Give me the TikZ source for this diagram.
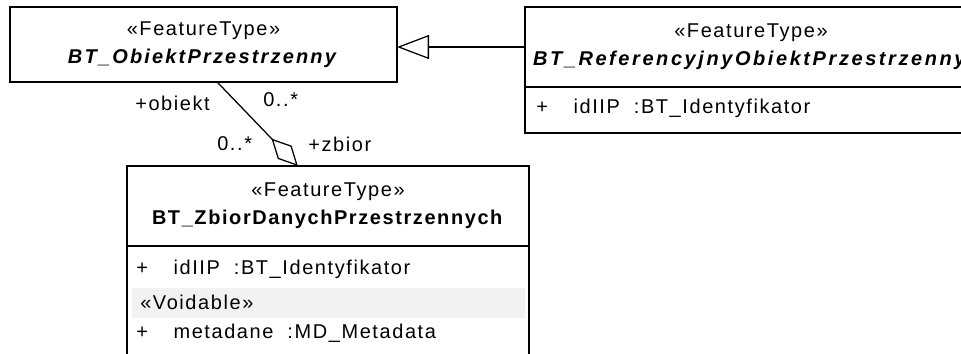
\documentclass[tikz,border=0pt]{standalone}
\usepackage{fontspec}
\setmainfont{Liberation Sans}[LetterSpace=8]
\usetikzlibrary{arrows.meta,calc,positioning}
\definecolor{ink}{HTML}{000000}
\definecolor{paper}{HTML}{FFFFFF}
\definecolor{voidfill}{HTML}{F2F2F2}
\newcommand{\umlfont}{\fontsize{14.2}{19.9}\selectfont}
% abstract class names come out looser than the rest
\newcommand{\absname}[2]{{\addfontfeature{LetterSpace=#1}\textbf{\textit{#2}}}}
\tikzset{
  % ---- class boxes -----------------------------------------------
  clshead/.style  = {rectangle, draw=ink, line width=1.4pt, fill=paper,
                     inner sep=0pt, outer sep=0pt, align=center,
                     font=\umlfont},
  clsbody/.style  = {rectangle, draw=ink, line width=1.4pt, fill=paper,
                     inner sep=0pt, outer sep=0pt},
  attr/.style     = {font=\umlfont, text=ink, inner sep=0pt,
                     anchor=base west},
  voidband/.style = {fill=voidfill, draw=none},
  % ---- relations -------------------------------------------------
  gen/.style      = {draw=ink, line width=.9pt,
                     -{Triangle[open, length=0.8cm, width=0.6cm]}},
  agg/.style      = {draw=ink, line width=.9pt,
                     -{Diamond[open, length=0.95cm, width=0.48cm]}},
  rolelab/.style  = {font=\umlfont, text=ink, inner sep=0pt,
                     anchor=base west},
}

\begin{document}
\begin{tikzpicture}
\useasboundingbox (0,0) rectangle (24.025,-8.825);
\clip (0,0) rectangle (24.025,-8.825);
% ---- BT_ObiektPrzestrzenny --------------------------------------
\node[clshead, minimum width=9.675cm, minimum height=1.875cm] (obj) at (5.0875,-1.1125)
  {«FeatureType»\\\absname{11}{BT\_ObiektPrzestrzenny}};
% ---- BT_ReferencyjnyObiektPrzestrzenny --------------------------
\node[clshead, minimum width=11.3cm, minimum height=2.0cm] (ref) at (18.775,-1.175)
  {«FeatureType»\\\absname{13}{BT\_ReferencyjnyObiektPrzestrzenny}};
\node[clsbody, minimum width=11.3cm, minimum height=1.15cm, anchor=north] (refbody) at (ref.south) {};
\node[attr] (refid) at (13.4,-2.825) {+\hspace{0.64cm}idIIP\hspace{0.35cm}:BT\_Identyfikator};
% ---- BT_ZbiorDanychPrzestrzennych -------------------------------
\node[clshead, minimum width=10.05cm, minimum height=2.0cm] (zb) at (8.2,-5.15)
  {«FeatureType»\\\textbf{BT\_ZbiorDanychPrzestrzennych}};
\node[clsbody, minimum width=10.05cm, minimum height=3.0cm, anchor=north] (zbbody) at (zb.south) {};
\fill[voidband] (3.3,-7.2) rectangle (13.125,-7.95);
\node[attr] (zbid) at (3.4,-6.85) {+\hspace{0.64cm}idIIP\hspace{0.35cm}:BT\_Identyfikator};
\node[attr] (zbvoid) at (3.5,-7.725) {«Voidable»};
\node[attr] (zbmeta) at (3.4,-8.45) {+\hspace{0.64cm}metadane\hspace{0.35cm}:MD\_Metadata};
% ---- generalization and aggregation -----------------------------
\draw[gen] (ref.west) -- (ref.west -| obj.east);
\draw[agg] (obj.-70) -- (zb.127);
\node[rolelab] (robj) at (3.375,-2.7625) {+obiekt};
\node[rolelab] (mobj) at (6.575,-2.6625) {0..*};
\node[rolelab] (mzb) at (5.425,-3.75) {0..*};
\node[rolelab] (rzb) at (7.7,-3.775) {+zbior};
\end{tikzpicture}
\end{document}
